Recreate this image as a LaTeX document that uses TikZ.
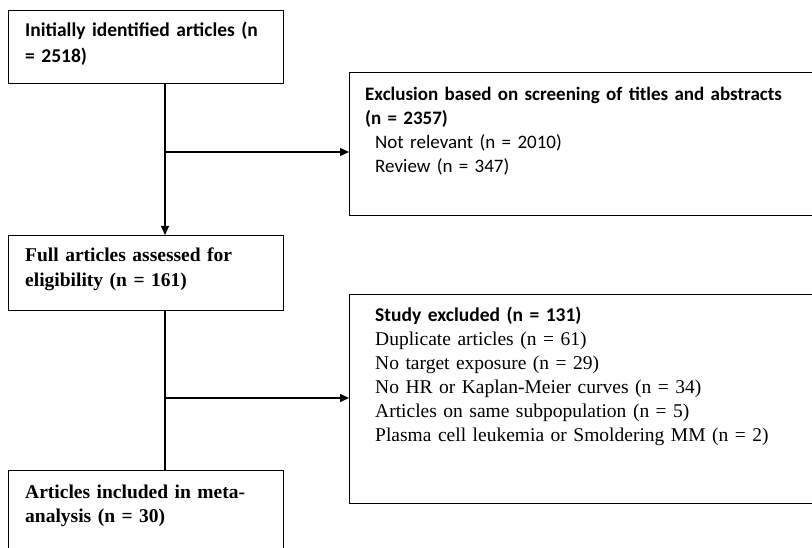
\documentclass[tikz,border=0pt]{standalone}
\usepackage{fontspec}
\setmainfont{Liberation Serif}[WordSpace=0.8]
\newfontfamily\calfont{Carlito}[WordSpace=0.8]
\usetikzlibrary{arrows.meta,positioning}

\tikzset{
  flowbox/.style={draw, line width=1.4pt, anchor=north west, inner sep=0pt},
  boxtext/.style={anchor=base west, inner sep=0pt, align=left, text width=440pt},
  flowline/.style={line width=1.4pt},
  flowarrow/.style={line width=1.4pt, -{Triangle[length=9pt,width=8pt]}},
}

\begin{document}
\begin{tikzpicture}[x=1pt, y=-1pt]
    \useasboundingbox (0,0) rectangle (812,548);
    \clip (0,0) rectangle (812,548);

    % Draw boxes
    \node[flowbox, minimum width=275pt, minimum height=73pt] (init) at (8,10) {};
    \node[flowbox, minimum width=475pt, minimum height=143pt] (screen) at (349,72) {};
    \node[flowbox, minimum width=275pt, minimum height=75pt] (full) at (8,235) {};
    \node[flowbox, minimum width=475pt, minimum height=209pt] (excl) at (349,294) {};
    \node[flowbox, minimum width=275pt, minimum height=100pt] (incl) at (8,470) {};

    % Draw box texts
    \node[boxtext, font=\calfont\bfseries\fontsize{19.5}{26}\selectfont] (initlabel) at (25,37)
        {Initially identified articles (n\\= 2518)};
    \node[boxtext, font=\calfont\fontsize{19}{24}\selectfont] (screenlabel) at (365,101)
        {\textbf{Exclusion based on screening of titles and abstracts}\\
         \textbf{(n = 2357)}\\
         \hspace*{10pt}Not relevant (n = 2010)\\
         \hspace*{10pt}Review (n = 347)};
    \node[boxtext, font=\bfseries\fontsize{19.5}{25}\selectfont] (fulllabel) at (25,262)
        {Full articles assessed for\\eligibility (n = 161)};
    \node[boxtext, font=\fontsize{19.5}{24}\selectfont] (excllabel) at (375,322)
        {{\calfont\bfseries Study excluded (n = 131)}\\
         Duplicate articles (n = 61)\\
         No target exposure (n = 29)\\
         No HR or Kaplan-Meier curves (n = 34)\\
         Articles on same subpopulation (n = 5)\\
         Plasma cell leukemia or Smoldering MM (n = 2)};
    \node[boxtext, font=\bfseries\fontsize{19.5}{24}\selectfont] (incllabel) at (25,498)
        {Articles included in meta-\\analysis (n = 30)};

    % Draw connectors
    \coordinate (split1) at (165,152);
    \coordinate (split2) at (165,398);
    \draw[flowarrow] (init.south -| split1) -- (full.north -| split1);
    \draw[flowarrow] (split1) -- (screen.west |- split1);
    \draw[flowline] (full.south -| split2) -- (incl.north -| split2);
    \draw[flowarrow] (split2) -- (excl.west |- split2);
\end{tikzpicture}
\end{document}
